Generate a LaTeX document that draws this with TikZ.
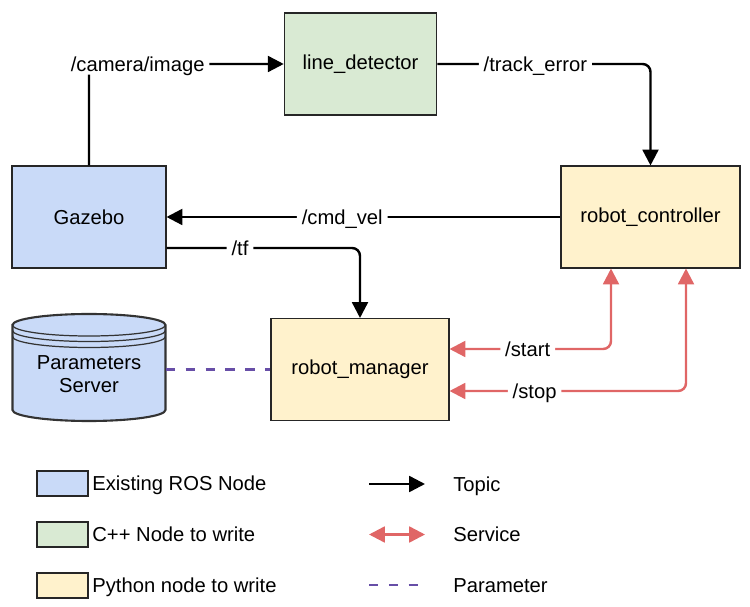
\documentclass[tikz,border=0pt]{standalone}
\usepackage{fontspec}
\setmainfont{Liberation Sans}
\usetikzlibrary{arrows.meta, calc, positioning}
\definecolor{rosblue}{HTML}{C9DAF8}
\definecolor{cppgreen}{HTML}{D9EAD3}
\definecolor{pyyellow}{HTML}{FFF2CC}
\definecolor{srvred}{HTML}{E06666}
\definecolor{parampurple}{HTML}{674EA7}
\definecolor{cyldark}{HTML}{333333}
\tikzset{
  rosnode/.style={draw=black!85, line width=0.6pt, minimum width=3.04cm, minimum height=2.04cm, align=center},
  topic/.style={-{Triangle[length=9pt,width=9pt]}, line width=1.4pt, rounded corners=4.5pt},
  service/.style={{Triangle[length=9pt,width=9pt]}-{Triangle[length=9pt,width=9pt]}, srvred, line width=1.4pt, rounded corners=4.5pt},
  param/.style={parampurple, line width=1.5pt, dash pattern=on 5.3pt off 6pt},
  msglabel/.style={fill=white, text=black, inner xsep=2.8pt, inner ysep=2pt, text height=8.2pt, text depth=0pt},
  swatch/.style={draw=black!85, line width=0.6pt, minimum width=1.02cm, minimum height=0.5cm},
  legtext/.style={inner sep=2pt, text height=8.2pt, text depth=0pt},
}

\begin{document}
\begin{tikzpicture}[x=0.02cm, y=-0.02cm, font=\fontsize{11.5}{13}\selectfont]
    \useasboundingbox (0,0) rectangle (750,607);

    % ROS nodes
    \node[rosnode, fill=cppgreen, minimum width=3.05cm] (linedet) at (360.5,64) {line\_detector};
    \node[rosnode, fill=rosblue, minimum width=3.08cm] (gazebo) at (89,217) {Gazebo};
    \node[rosnode, fill=pyyellow, minimum width=3.58cm] (controller) at (650.5,217) {robot\_controller};
    \node[rosnode, fill=pyyellow, minimum width=3.56cm] (manager) at (360,369.5) {robot\_manager};

    % Parameters server cylinder
    \filldraw[fill=rosblue, draw=cyldark, line width=1.2pt] (12.5,325) -- (12.5,410)
        arc[start angle=180, end angle=360, x radius=1.53cm, y radius=0.22cm] -- (165.5,325)
        arc[start angle=0, end angle=180, x radius=1.53cm, y radius=0.22cm] -- cycle;
    \foreach \cy in {325,330.5,336.5}
        \draw[cyldark, line width=0.7pt] (12.5,\cy) arc[start angle=180, end angle=360, x radius=1.53cm, y radius=0.22cm];
    \node[align=center, minimum width=3.06cm, inner sep=0pt] (params) at (89,374) {Parameters\\Server};

    % Topics
    \draw[topic] (gazebo.north) |- node[msglabel, pos=0.625] {/camera/image} (linedet.west);
    \draw[topic] (linedet.east) -| node[msglabel, pos=0.23] {/track\_error} (controller.north);
    \draw[topic] (controller.west) -- node[msglabel, pos=0.554] {/cmd\_vel} (gazebo.east);
    \draw[topic] ($(gazebo.east)+(0,31)$) -| node[msglabel, pos=0.19] {/tf} (manager.north);

    % Services
    \draw[service] ($(manager.east)+(0,-20.5)$) -| node[msglabel, pos=0.242] {/start} ($(controller.south)+(-39.5,0)$);
    \draw[service] ($(manager.east)+(0,21.5)$) -| node[msglabel, pos=0.18] {/stop} ($(controller.south)+(35.5,0)$);

    % Parameter
    \draw[param] (manager.west -| params.east) -- (manager.west);

    % Legend
    \node[swatch, fill=rosblue] (legros) at (62.5,483.5) {};
    \node[swatch, fill=cppgreen] (legcpp) at (62.5,534.5) {};
    \node[swatch, fill=pyyellow] (legpy) at (62.5,585.5) {};
    \node[legtext, right=0pt of legros] (legrostext) {Existing ROS Node};
    \node[legtext, right=0pt of legcpp] (legcpptext) {C++ Node to write};
    \node[legtext, right=0pt of legpy] (legpytext) {Python node to write};

    \coordinate (ltopa) at (369,484);
    \coordinate (ltopb) at (425,484);
    \coordinate (lsrva) at (369,534.5);
    \coordinate (lsrvb) at (425,534.5);
    \coordinate (lpara) at (369,585);
    \coordinate (lparb) at (420,585);
    \draw[topic] (ltopa) -- (ltopb);
    \draw[service] (lsrva) -- (lsrvb);
    \draw[param] (lpara) -- (lparb);
    \node[legtext, anchor=west, inner sep=0pt] (ltoptext) at (453,484) {Topic};
    \node[legtext, anchor=west, inner sep=0pt] (lsrvtext) at (453,534.5) {Service};
    \node[legtext, anchor=west, inner sep=0pt] (lpartext) at (453,585.5) {Parameter};
\end{tikzpicture}
\end{document}
